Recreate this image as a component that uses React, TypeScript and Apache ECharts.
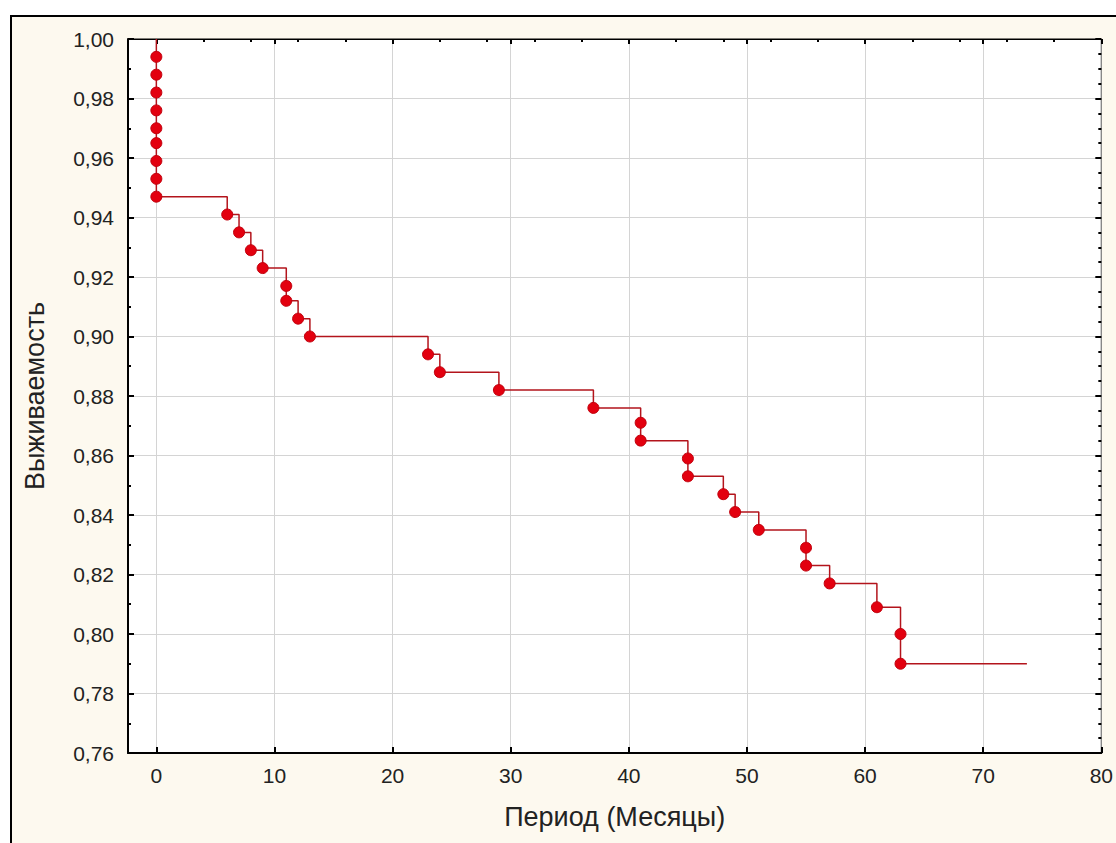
import React, { useEffect, useRef } from "react";
import * as echarts from "echarts";

const months = [0, 0, 0, 0, 0, 0, 0, 0, 0, 0, 6, 7, 8, 9, 11, 11, 12, 13, 23, 24, 29, 37, 41, 41, 45, 45, 48, 49, 51, 55, 55, 57, 61, 63, 63, 73.7];
const survival = [1.0, 0.994, 0.988, 0.982, 0.976, 0.970, 0.965, 0.959, 0.953, 0.947, 0.941, 0.935, 0.929, 0.923, 0.917, 0.912, 0.906, 0.900, 0.894, 0.888, 0.882, 0.876, 0.871, 0.865, 0.859, 0.853, 0.847, 0.841, 0.835, 0.829, 0.823, 0.817, 0.809, 0.800, 0.790, 0.790];
const xTicks = [0, 10, 20, 30, 40, 50, 60, 70, 80];
const xTitle = "Период (Месяцы)";
const yTitle = "Выживаемость";

export default function App() {
  const ref = useRef<HTMLDivElement>(null);
  useEffect(() => {
    if (!ref.current) return;
    const chart = echarts.init(ref.current, null, { renderer: "svg" });
    const data = months.map((m, i) => {
      const hide = i === 0 || i === months.length - 1;
      return hide ? { value: [m, survival[i]], symbol: "none" } : { value: [m, survival[i]] };
    });
    const font = "Liberation Sans, Arial, sans-serif";
    chart.setOption({
      animation: false,
      grid: {
        left: 128,
        top: 39,
        right: 12,
        bottom: 90,
        show: true,
        backgroundColor: "#ffffff",
        borderColor: "#000",
        borderWidth: 1,
      },
      xAxis: [
        {
          type: "value",
          min: -2.4,
          max: 80,
          position: "bottom",
          axisLine: { show: true, onZero: false, lineStyle: { color: "#000", width: 2 } },
          axisTick: { show: true, inside: true, length: 6, customValues: xTicks, lineStyle: { color: "#000", width: 2 } },
          axisLabel: {
            customValues: xTicks,
            color: "#222",
            fontSize: 21,
            fontFamily: font,
            margin: 12,
          },
          splitLine: { show: true, lineStyle: { color: "#d4d4d4", width: 1 } },
          name: xTitle,
          nameLocation: "middle",
          nameGap: 50,
          nameTextStyle: { color: "#222", fontSize: 27, fontFamily: font },
        },
        {
          type: "value",
          min: -2.4,
          max: 80,
          position: "top",
          axisLine: { show: true, onZero: false, lineStyle: { color: "#000", width: 1 } },
          axisTick: { show: true, inside: true, length: 5, customValues: xTicks, lineStyle: { color: "#000", width: 2 } },
          minorTick: { show: true, splitNumber: 5, length: 3, lineStyle: { color: "#000", width: 2 } },
          axisLabel: { show: false },
          splitLine: { show: false },
        },
      ],
      yAxis: [
        {
          type: "value",
          min: 0.76,
          max: 1.0,
          interval: 0.02,
          position: "left",
          axisLine: { show: true, onZero: false, lineStyle: { color: "#000", width: 2 } },
          axisTick: { show: true, inside: true, length: 6, lineStyle: { color: "#000", width: 2 } },
          minorTick: { show: true, splitNumber: 2, length: 3, lineStyle: { color: "#000", width: 2 } },
          axisLabel: {
            color: "#222",
            fontSize: 21,
            fontFamily: font,
            margin: 14,
            formatter: (v: number) => v.toFixed(2).replace(".", ","),
          },
          splitLine: { show: true, lineStyle: { color: "#d4d4d4", width: 1 } },
          name: yTitle,
          nameLocation: "middle",
          nameGap: 80,
          nameTextStyle: { color: "#222", fontSize: 27, fontFamily: font },
        },
        {
          type: "value",
          min: 0.76,
          max: 1.0,
          interval: 0.02,
          position: "right",
          axisLine: { show: true, onZero: false, lineStyle: { color: "#888", width: 1 } },
          axisTick: { show: true, inside: true, length: 6, lineStyle: { color: "#000", width: 2 } },
          minorTick: { show: true, splitNumber: 4, length: 3, lineStyle: { color: "#000", width: 2 } },
          axisLabel: { show: false },
          splitLine: { show: false },
        },
      ],
      series: [
        {
          type: "line",
          step: "end",
          data,
          xAxisIndex: 0,
          yAxisIndex: 0,
          symbol: "circle",
          symbolSize: 11,
          itemStyle: { color: "#e3000f", borderColor: "#c0000c", borderWidth: 1 },
          lineStyle: { color: "#b3141c", width: 1.5 },
          z: 5,
        },
      ],
    });
    return () => chart.dispose();
  }, []);

  return (
    <div style={{ position: "absolute", left: 0, top: 0, width: 1116, height: 843, background: "#ffffff", overflow: "hidden" }}>
      <div
        style={{
          position: "absolute",
          left: 10,
          top: 15,
          width: 1116,
          height: 843,
          background: "#fdf9ef",
          borderLeft: "2px solid #000",
          borderTop: "2px solid #000",
        }}
      />
      <div ref={ref} style={{ position: "absolute", left: 0, top: 0, width: 1116, height: 843 }} />
    </div>
  );
}
